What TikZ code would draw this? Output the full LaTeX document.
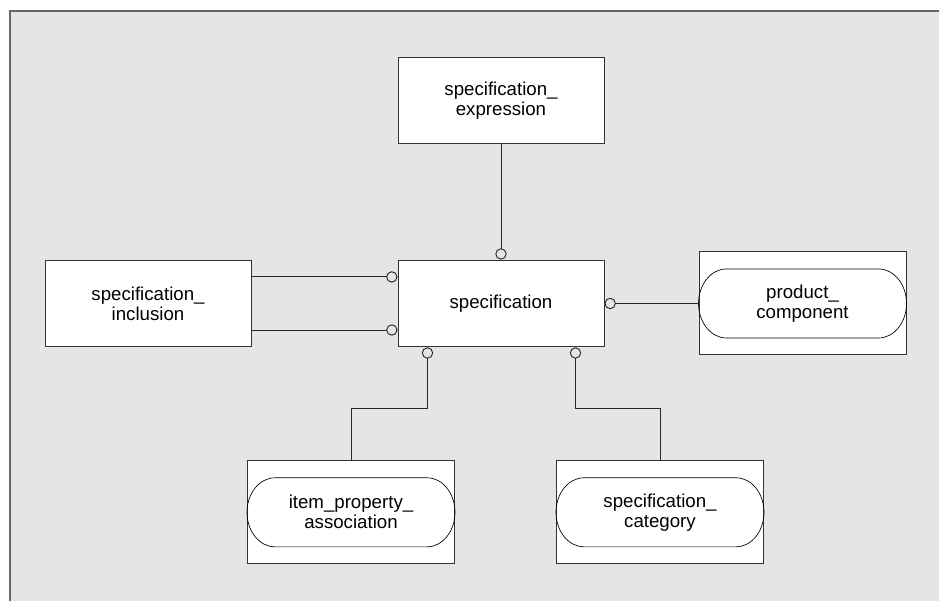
\documentclass[tikz,border=0pt]{standalone}
\usepackage{fontspec}
\setmainfont{Liberation Sans}
\usetikzlibrary{arrows.meta, positioning}

\begin{document}
\begin{tikzpicture}[
    font=\fontsize{14}{15}\selectfont,
    entity/.style={draw=black!80, line width=0.75pt, fill=white, align=center, minimum width=154.5pt, minimum height=65pt, inner sep=0pt},
    refbox/.style={entity, minimum width=155.25pt, minimum height=77.25pt},
    link/.style={draw=black!85, line width=0.7pt, -{Circle[open, length=8.5pt, width=8.5pt, line width=0.7pt]}},
    stadium/.style={draw=black, line width=0.5pt}
]

    % Page and frame
    \useasboundingbox (0,0) rectangle (704.25pt,-450pt);
    \draw[draw=black!60, line width=1.1pt, fill=black!10] (7.5pt,-8.25pt) rectangle (712pt,-460pt);

    % Entities
    \node[entity] (spec) at (375.75pt,-227.6pt) {specification};
    \node[entity, above=86.5pt of spec] (expr) {specification\_\\expression};
    \node[entity, left=109.5pt of spec] (incl) {specification\_\\inclusion};
    \node[refbox, right=70.5pt of spec] (prodcomp) {product\_\\component};
    \node[refbox, below=84.75pt of spec, xshift=-112.5pt] (itemprop) {item\_property\_\\association};
    \node[refbox, below=84.75pt of spec, xshift=119.25pt] (speccat) {specification\_\\category};

    % Rounded outlines of the referenced entities
    \foreach \n in {prodcomp, itemprop, speccat}
        \draw[stadium] (\n.west) arc[start angle=180, end angle=90, x radius=21pt, y radius=25.9pt]
            -- ([xshift=-21pt, yshift=25.9pt]\n.east)
            arc[start angle=90, end angle=-90, x radius=21pt, y radius=25.9pt]
            -- ([xshift=21pt, yshift=-25.9pt]\n.west)
            arc[start angle=270, end angle=180, x radius=21pt, y radius=25.9pt];

    % Connections
    \draw[link] (expr) -- (spec);
    \draw[link] ([yshift=19.9pt]incl.east) -- ([yshift=19.9pt]spec.west);
    \draw[link] ([yshift=-19.9pt]incl.east) -- ([yshift=-19.9pt]spec.west);
    \draw[link] (prodcomp.west) -- (spec.east);
    \draw[link] (itemprop.north) -- ++(0,39pt) -| ([xshift=22.5pt]spec.south west);
    \draw[link] (speccat.north) -- ++(0,39pt) -| ([xshift=-21.75pt]spec.south east);

\end{tikzpicture}
\end{document}
